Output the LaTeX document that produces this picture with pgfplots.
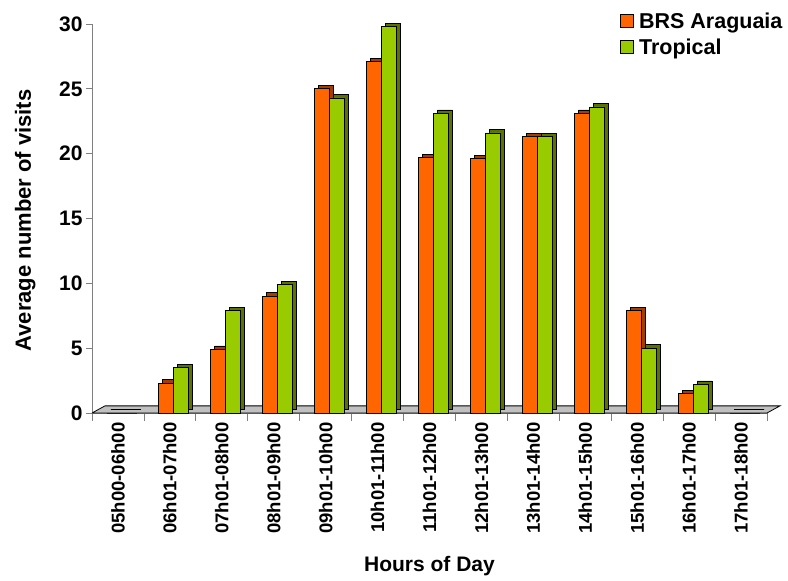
\documentclass[border=0pt]{standalone}
\usepackage{fontspec}
\setmainfont{Liberation Sans}
\usepackage{pgfplots}
\pgfplotsset{compat=1.18}

\definecolor{orangefront}{HTML}{FF6600}
\definecolor{orangeside}{HTML}{A33D00}
\definecolor{greenfront}{HTML}{99CC00}
\definecolor{greenside}{HTML}{5A7300}
\definecolor{floorgray}{HTML}{C0C0C0}
\definecolor{axisgray}{HTML}{808080}

\begin{document}
\begin{tikzpicture}
\begin{axis}[%
at={(0pt,0pt)}, anchor=south west,%
width=675pt, height=389pt, scale only axis,%
xmin=-0.5, xmax=12.5, ymin=0, ymax=30,%
axis x line=bottom, axis y line=left,%
axis line style={-, draw=axisgray, line width=0.8pt},%
ytick={0,5,...,30},%
xtick={0,...,12},%
xticklabels={05h00-06h00,06h01-07h00,07h01-08h00,08h01-09h00,09h01-10h00,10h01-11h00,11h01-12h00,12h01-13h00,13h01-14h00,14h01-15h00,15h01-16h00,16h01-17h00,17h01-18h00},%
minor xtick={-0.5,0.5,...,12.5},%
major x tick style={draw=none},%
tick align=outside,%
major tick length=6pt, minor tick length=8pt,%
tick style={draw=axisgray, line width=0.8pt},%
/pgf/number format/assume math mode=true,%
yticklabel style={font=\fontsize{21}{24}\selectfont\bfseries},%
xticklabel style={font=\fontsize{18.5}{21}\selectfont\bfseries, rotate=90, anchor=east},%
xlabel={Hours of Day}, ylabel={Average number of visits},%
every axis x label/.style={at={(axis description cs:0.5,-0.393)}, anchor=center, font=\fontsize{21}{24}\selectfont\bfseries},%
every axis y label/.style={at={(axis description cs:-0.099,0.495)}, rotate=90, anchor=center, font=\fontsize{22}{25}\selectfont\bfseries},%
bar width=15pt,%
clip=false,%
legend cell align=left,%
legend style={draw=none, fill=none, at={(axis description cs:0.777,1.04)}, anchor=north west,%
  font=\fontsize{21.5}{24}\selectfont\bfseries, row sep=5pt}%
]

% floor
\addplot [fill=floorgray, draw=black, line width=0.8pt, forget plot]
  coordinates {(-0.5,0) (12.5,0) (12.75,0.55) (-0.25,0.55) (-0.5,0)};

% BRS Araguaia: depth, then front
\addplot [ybar, bar shift=-3.5pt, fill=orangeside, draw=black, line width=0.8pt,
  xshift=4pt, yshift=3.5pt, forget plot] coordinates {
 (0,0) (1,2.3) (2,4.9) (3,9.0) (4,25.0) (5,27.1) (6,19.7) (7,19.6) (8,21.3) (9,23.1) (10,7.9) (11,1.5) (12,0)
};
\addplot [ybar, bar shift=-3.5pt, fill=orangefront, draw=black, line width=0.8pt,
  legend image code/.code={\draw[fill=orangefront, draw=black, line width=0.8pt] (0pt,-6.5pt) rectangle (13pt,6.5pt);
    \path[draw=none, fill=none] (0pt,0pt) -- (17pt,0pt);}] coordinates {
 (0,0) (1,2.3) (2,4.9) (3,9.0) (4,25.0) (5,27.1) (6,19.7) (7,19.6) (8,21.3) (9,23.1) (10,7.9) (11,1.5) (12,0)
};
\addlegendentry{BRS Araguaia}

% Tropical: depth, then front
\addplot [ybar, bar shift=11.5pt, fill=greenside, draw=black, line width=0.8pt,
  xshift=4pt, yshift=3.5pt, forget plot] coordinates {
 (0,0) (1,3.5) (2,7.9) (3,9.9) (4,24.3) (5,29.8) (6,23.1) (7,21.6) (8,21.3) (9,23.6) (10,5.0) (11,2.2) (12,0)
};
\addplot [ybar, bar shift=11.5pt, fill=greenfront, draw=black, line width=0.8pt,
  legend image code/.code={\draw[fill=greenfront, draw=black, line width=0.8pt] (0pt,-6.5pt) rectangle (13pt,6.5pt);
    \path[draw=none, fill=none] (0pt,0pt) -- (17pt,0pt);}] coordinates {
 (0,0) (1,3.5) (2,7.9) (3,9.9) (4,24.3) (5,29.8) (6,23.1) (7,21.6) (8,21.3) (9,23.6) (10,5.0) (11,2.2) (12,0)
};
\addlegendentry{Tropical}

\end{axis}
\path (-92pt,-168pt) rectangle (696pt,413pt);
\end{tikzpicture}
\end{document}
